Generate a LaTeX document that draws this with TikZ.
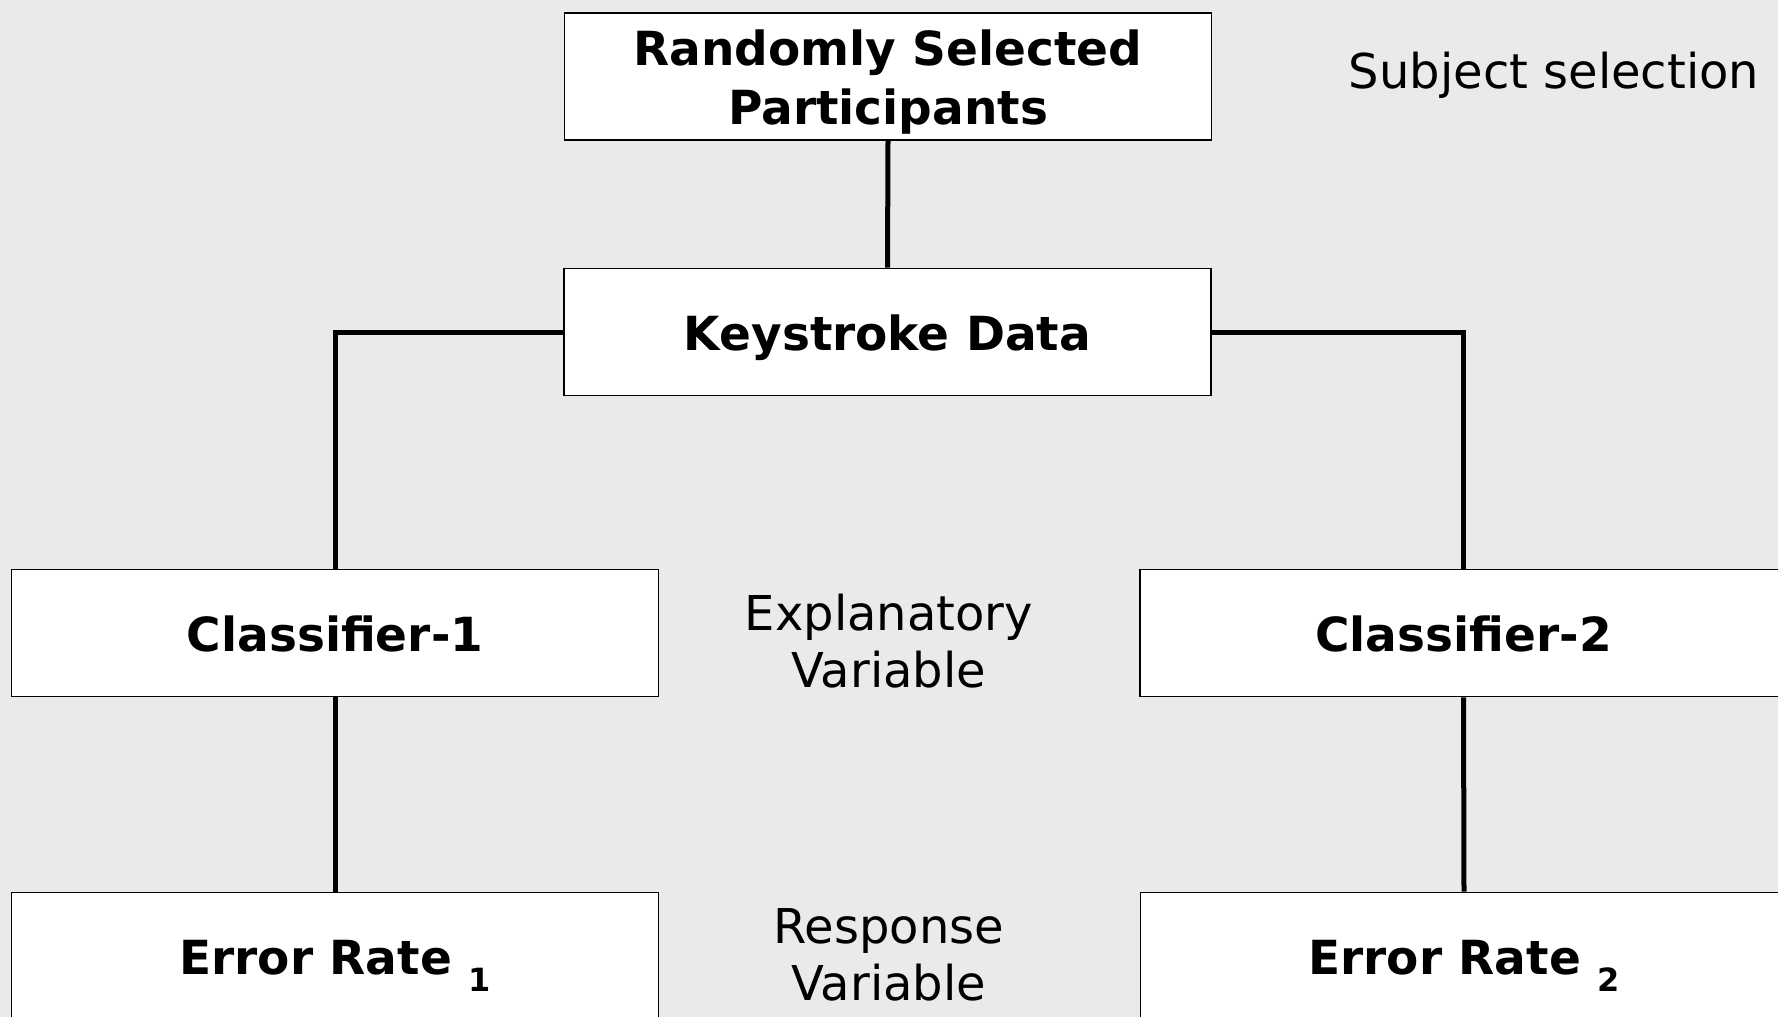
\documentclass[tikz,border=0pt]{standalone}
\usepackage{fontspec}
\setmainfont{DejaVu Sans}
\definecolor{bg}{HTML}{EAEAEA}
\begin{document}
\begin{tikzpicture}[x=1pt,y=-1pt,
  box/.style={draw=black,line width=1.8pt,fill=white,minimum width=647pt,minimum height=127pt,inner sep=0pt,align=center,text height=36pt,text depth=-3pt,font=\fontsize{47}{59}\selectfont\bfseries},
  lbl/.style={align=center,inner sep=0pt,font=\fontsize{48}{57}\selectfont},
  conn/.style={line width=5pt}]
\useasboundingbox[fill=bg] (0,0) rectangle (1778,1017);
\node[box,text height=96.6pt,text depth=0pt] (top) at (888,76.5) {Randomly Selected\\Participants};
\node[box] (keys) at (887.5,332) {Keystroke Data};
\node[box] (c1) at (335,633) {Classifier-1};
\node[box] (c2) at (1463.5,633) {Classifier-2};
\node[box] (e1) at (335,956) {Error Rate {\fontsize{32}{32}\selectfont\raisebox{-17pt}{1}}};
\node[box] (e2) at (1464,956) {Error Rate {\fontsize{32}{32}\selectfont\raisebox{-17pt}{2}}};
\node[lbl] (subj) at (1554,75.5) {Subject selection};
\node[lbl] (expl) at (889,641) {Explanatory\\Variable};
\node[lbl] (resp) at (889,955) {Response\\Variable};
\draw[conn] (top.south) -- (keys.north);
\draw[conn] (keys.west) -| (c1.north);
\draw[conn] (keys.east) -| (c2.north);
\draw[conn] (c1.south) -- (e1.north);
\draw[conn] (c2.south) -- (e2.north);
\end{tikzpicture}
\end{document}
